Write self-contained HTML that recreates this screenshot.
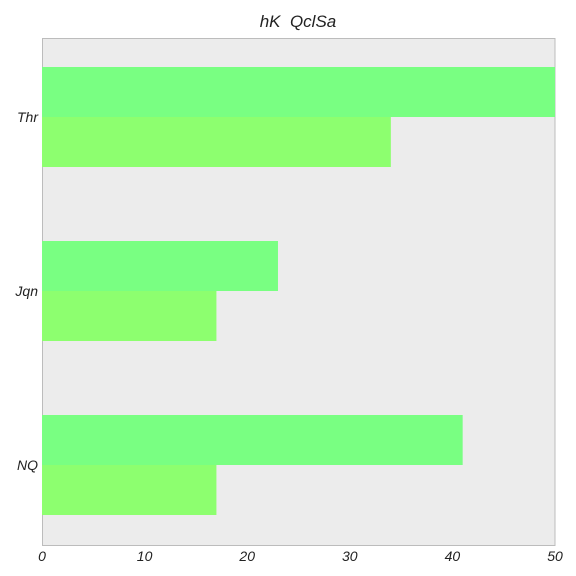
<!DOCTYPE html>
<html><head><meta charset="utf-8">
<style>
html,body{margin:0;padding:0;background:#fff;}
svg{display:block;font-family:"Liberation Sans",sans-serif;font-style:italic;}
</style></head>
<body>
<svg id="chart" width="576" height="576" viewBox="0 0 576 576" xmlns="http://www.w3.org/2000/svg">
<text x="298" y="27" text-anchor="middle" font-size="17" fill="#222" xml:space="preserve">hK  QclSa</text>
<rect x="42.5" y="38.5" width="512.5" height="507" fill="#ececec" stroke="#bcbcbc" stroke-width="1"/>
<g id="bars"></g>
<g id="ylabels"></g>
<g id="xlabels"></g>
</svg>
<script>
const categories = ["Thr", "Jqn", "NQ"];
const seriesA = [50, 23, 41];
const seriesB = [34, 17, 17];
const xTicks = [0, 10, 20, 30, 40, 50];

const NS = "http://www.w3.org/2000/svg";
const x0 = 42, x1 = 555, xMax = 50;
function xScale(v){ return x0 + (v / xMax) * (x1 - x0); }
function yCenter(i){ return 117 + 174 * i; }
const barH = 50;

const bars = document.getElementById('bars');
const yl = document.getElementById('ylabels');
const xl = document.getElementById('xlabels');

categories.forEach((c, i) => {
  const cy = yCenter(i);
  const a = document.createElementNS(NS, 'rect');
  
  
  a.setAttribute('x', x0); a.setAttribute('y', cy - barH);
  a.setAttribute('width', xScale(seriesA[i]) - x0); a.setAttribute('height', barH);
  a.setAttribute('fill', '#79ff82');
  bars.appendChild(a);
  const b = document.createElementNS(NS, 'rect');
  
  
  b.setAttribute('x', x0); b.setAttribute('y', cy);
  b.setAttribute('width', xScale(seriesB[i]) - x0); b.setAttribute('height', barH);
  b.setAttribute('fill', '#8dff6f');
  bars.appendChild(b);
  const t = document.createElementNS(NS, 'text');
  
  
  t.setAttribute('x', 38); t.setAttribute('y', cy + 5);
  t.setAttribute('text-anchor', 'end'); t.setAttribute('font-size', '14'); t.setAttribute('fill', '#222');
  t.textContent = c;
  yl.appendChild(t);
});

xTicks.forEach(v => {
  const t = document.createElementNS(NS, 'text');
  
  
  t.setAttribute('x', xScale(v)); t.setAttribute('y', 561);
  t.setAttribute('text-anchor', 'middle'); t.setAttribute('font-size', '14'); t.setAttribute('fill', '#222');
  t.textContent = v;
  xl.appendChild(t);
});
</script>
</body></html>
